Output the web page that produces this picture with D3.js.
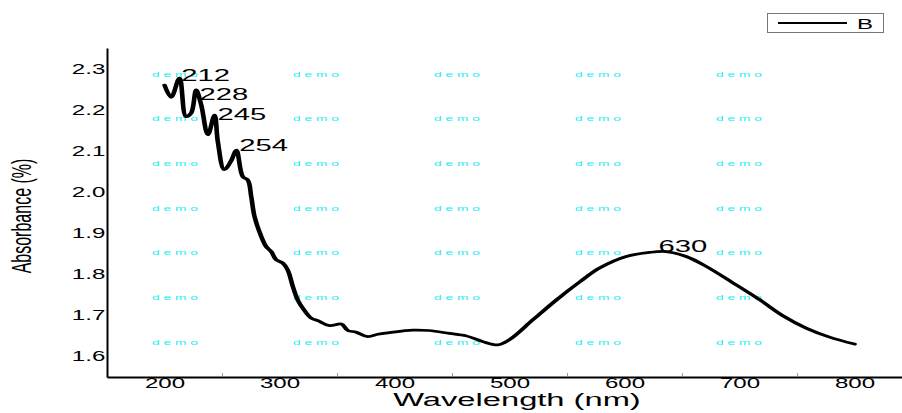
<!DOCTYPE html>
<html>
<head>
<meta charset="utf-8">
<script src="https://d3js.org/d3.v7.min.js"></script>
<style>
  body { margin: 0; background: #fff; }
  svg { display: block; font-family: "Liberation Sans", Arial, sans-serif; }
</style>
</head>
<body>
<svg id="chart" width="902" height="413"></svg>
<script>
// spectrum
var wavelength = [200, 205.8, 213, 218.8, 223.2, 227.5, 231.9, 237.7, 243.5, 246.4, 252, 258, 262.5,
  268.1, 272.4, 275.4, 278.3, 284.1, 288.4, 292.8, 297.1, 302.9, 307.2, 311.6, 315.9, 320.3,
  327.6, 333.3, 343.5, 353.7, 359.4, 366.7, 376.8, 385.5, 395.7, 416, 430, 447.8, 462.3, 476.8,
  489.8, 500, 520.3, 540.6, 560.9, 578.3, 601.5, 621.7, 636.2, 653.6, 671, 694.2, 717.4, 737.7,
  757.9, 778.3, 800];
var absorbance = [2.260, 2.230, 2.277, 2.183, 2.192, 2.248, 2.212, 2.139, 2.187, 2.122, 2.054, 2.076, 2.102,
  2.037, 2.029, 1.989, 1.940, 1.892, 1.867, 1.855, 1.835, 1.827, 1.810, 1.770, 1.737, 1.717,
  1.693, 1.687, 1.675, 1.679, 1.663, 1.659, 1.648, 1.654, 1.658, 1.664, 1.663, 1.656, 1.650, 1.636,
  1.628, 1.641, 1.689, 1.737, 1.781, 1.815, 1.843, 1.853, 1.855, 1.843, 1.819, 1.779, 1.738, 1.699,
  1.669, 1.647, 1.630];

var xTicks = [200, 300, 400, 500, 600, 700, 800];
var xMinorTicks = [250, 350, 450, 550, 650, 750];
var yTicks = [1.6, 1.7, 1.8, 1.9, 2.0, 2.1, 2.2, 2.3];

// peak labels (text, wavelength where label starts, absorbance of baseline)
var peakText = ["212", "228", "245", "254", "630"];
var peakX = [214.5, 230.4, 246, 265, 629.6];
var peakY = [2.270, 2.224, 2.175, 2.100, 1.854];

var seriesName = "B";

var SX = 1.72; // the original image is stretched sideways

var svg = d3.select("#chart");

var x = d3.scaleLinear().domain([150, 850]).range([107, 912]);
var y = d3.scaleLinear().domain([1.55, 2.35]).range([377, 48]);

// watermark
var demo = svg.append("g").attr("fill", "#22eef5").attr("font-size", 8);
for (var r = 0; r < 7; r++) {
  for (var c = 0; c < 5; c++) {
    demo.append("text")
      .attr("transform", "translate(" + (152 + c * 141) + "," + (76.5 + r * 44.7) + ") scale(" + SX + ",1)")
      .text("d e m o");
  }
}

// axes
var yAxis = svg.append("g")
  .attr("transform", "translate(107,0)")
  .call(d3.axisLeft(y).tickValues(yTicks).tickSize(0).tickSizeOuter(0).tickPadding(1)
    .tickFormat(d3.format(".1f")));
yAxis.select(".domain").attr("stroke", "#000").attr("stroke-width", 2);
yAxis.selectAll(".tick text")
  .attr("font-size", 14).attr("fill", "#000").attr("font-family", null)
  .attr("x", -1)
  .attr("transform", "scale(" + SX + ",1)");

var xAxis = svg.append("g")
  .attr("transform", "translate(0,377)")
  .call(d3.axisBottom(x).tickValues(xTicks).tickSize(0).tickSizeOuter(0).tickPadding(1));
xAxis.select(".domain").attr("stroke", "#000").attr("stroke-width", 2);
xAxis.selectAll("text").attr("font-size", 14).attr("fill", "#000").attr("font-family", null)
  .attr("transform", "scale(" + SX + ",1)");

var xMinor = svg.append("g")
  .attr("transform", "translate(0,376)")
  .call(d3.axisBottom(x).tickValues(xMinorTicks).tickSize(-3).tickFormat(""));
xMinor.select(".domain").remove();
xMinor.selectAll("line").attr("stroke", "#999");

// axis titles
svg.append("text")
  .attr("transform", "translate(517,406) scale(" + SX + ",1)")
  .attr("text-anchor", "middle")
  .attr("font-size", 19)
  .text("Wavelength (nm)");

svg.append("text")
  .attr("transform", "translate(31,216) scale(" + SX + ",1) rotate(-90)")
  .attr("text-anchor", "middle")
  .attr("font-size", 16)
  .text("Absorbance (%)");

// spectrum, drawn in unstretched space so steep parts come out thicker like the original
var xs = x.copy().range(x.range().map(function(v) { return v / SX; }));
var line = d3.line()
  .x(function(d, i) { return xs(wavelength[i]); })
  .y(function(d) { return y(d); })
  .curve(d3.curveCatmullRom.alpha(0.5));

svg.append("g")
  .attr("transform", "scale(" + SX + ",1)")
  .append("path")
  .datum(absorbance)
  .attr("d", line)
  .attr("fill", "none")
  .attr("stroke", "#000")
  .attr("stroke-width", 2.7)
  .attr("stroke-linejoin", "round")
  .attr("stroke-linecap", "round");

// peak labels
peakText.forEach(function(t, i) {
  svg.append("text")
    .attr("transform", "translate(" + x(peakX[i]) + "," + y(peakY[i]) + ") scale(" + SX + ",1)")
    .attr("font-size", 17)
    .text(t);
});

// legend
var legend = svg.append("g");
legend.append("rect")
  .attr("x", 767.5).attr("y", 13.5).attr("width", 116).attr("height", 19)
  .attr("fill", "#fff").attr("stroke", "#777").attr("stroke-width", 1);
legend.append("line")
  .attr("x1", 778).attr("x2", 847).attr("y1", 23).attr("y2", 23)
  .attr("stroke", "#000").attr("stroke-width", 2);
legend.append("text")
  .attr("transform", "translate(857,28.5) scale(" + SX + ",1)")
  .attr("font-size", 14)
  .text(seriesName);
</script>
</body>
</html>
